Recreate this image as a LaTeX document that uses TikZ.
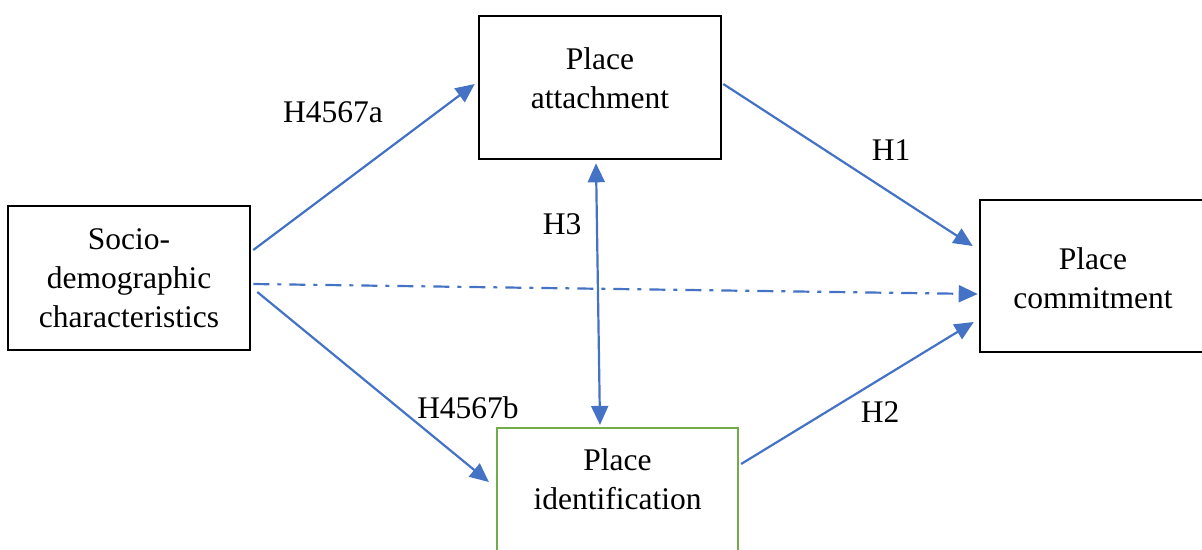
\documentclass[tikz,border=0pt]{standalone}
\usepackage{fontspec}
\setmainfont{Liberation Serif}
\usetikzlibrary{arrows.meta}
\definecolor{arrblue}{HTML}{4472C4}
\definecolor{boxgreen}{HTML}{70AD47}
\begin{document}
\begin{tikzpicture}[x=1pt,y=-1pt,
  every node/.style={font=\fontsize{31.5}{39}\selectfont},
  box/.style={draw=black,line width=2.6pt,fill=white,align=center,inner sep=0pt},
  conn/.style={draw=arrblue,line width=2.2pt,-{Triangle[length=19pt,width=17pt]}},
  lbl/.style={inner sep=0pt}]
\useasboundingbox (0,0) rectangle (1202,549);
\begin{scope}
\clip (0,0) rectangle (1202,549);
\node[box,minimum width=242pt,minimum height=144pt] (socio) at (129,278) {Socio-\\demographic\\characteristics};
\node[box,minimum width=242pt,minimum height=143pt] (attach) at (600,87.5) {};
\node[align=center,inner sep=0pt] (attachtxt) at (600,78) {Place\\attachment};
\node[box,minimum width=226pt,minimum height=152pt] (commit) at (1093,276) {};
\node[align=center,inner sep=0pt] (committxt) at (1093,278) {Place\\commitment};
\node[box,draw=boxgreen,line width=2.2pt,minimum width=241pt,minimum height=160pt] (ident) at (617.5,508) {};
\node[align=center,inner sep=0pt] (identtxt) at (617.5,479) {Place\\identification};
\end{scope}

\draw[conn] ([shift={(2,-28)}]socio.east) -- ([shift={(-3,-3.5)}]attach.west);
\draw[conn] ([shift={(6,14)}]socio.east) -- ([shift={(-7,-26)}]ident.west);
\draw[conn,dash pattern=on 16pt off 8pt on 4pt off 8pt] ([shift={(2,6)}]socio.east) -- ([shift={(-1,18)}]commit.west);
\draw[conn] ([shift={(1,-3.5)}]attach.east) -- ([shift={(-6,-30)}]commit.west);
\draw[conn] ([shift={(2,-44)}]ident.east) -- ([shift={(-5,46)}]commit.west);
\draw[conn,{Triangle[length=19pt,width=17pt]}-{Triangle[length=19pt,width=17pt]}] ([shift={(-4,3)}]attach.south) -- ([shift={(-17.5,-2)}]ident.north);

\node[lbl] (h4a) at (333,112) {H4567a};
\node[lbl] (h4b) at (468,408) {H4567b};
\node[lbl] (h1) at (891,150) {H1};
\node[lbl] (h2) at (880,412) {H2};
\node[lbl] (h3) at (562,224) {H3};
\end{tikzpicture}
\end{document}
